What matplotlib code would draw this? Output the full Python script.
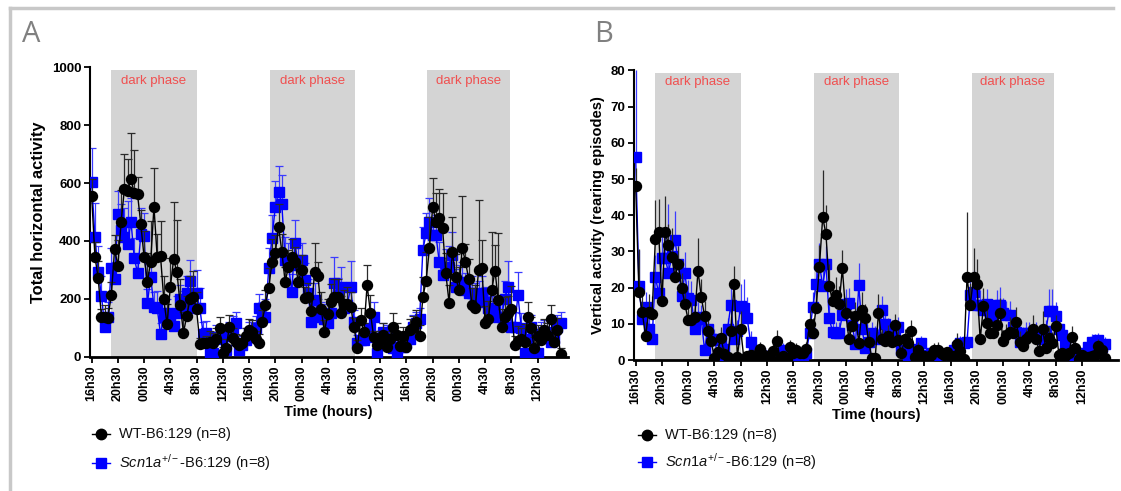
import numpy as np
import matplotlib
matplotlib.use('Agg')
import matplotlib.pyplot as plt
from matplotlib.lines import Line2D

plt.rcParams['font.family'] = ['Liberation Sans', 'DejaVu Sans']
plt.rcParams['mathtext.fontset'] = 'custom'
plt.rcParams['mathtext.it'] = 'Liberation Sans:italic'
plt.rcParams['mathtext.rm'] = 'Liberation Sans'

# ---------------- data ----------------
time_h = np.arange(144) * 0.5          # hours after 16h30, 30-min bins
tick_hours = np.arange(0, 69, 4)
tick_labels = ['16h30', '20h30', '00h30', '4h30', '8h30', '12h30'] * 3
dark_phases = [(2.95, 16.0), (27.2, 40.1), (51.2, 63.8)]

horiz_wt = [555, 346, 271, 136, 138, 135, 213, 371, 315, 467, 580, 573, 613, 565, 561, 457,
            343, 259, 328, 518, 343, 348, 198, 112, 242, 336, 293, 179, 83, 141, 198, 205,
            164, 45, 46, 46, 50, 46, 60, 98, 14, 30, 104, 63, 50, 40, 46, 70,
            92, 86, 60, 48, 121, 180, 236, 328, 359, 449, 363, 259, 309, 346, 328, 259,
            300, 202, 205, 159, 294, 279, 164, 86, 148, 190, 207, 207, 150, 182, 182, 173,
            104, 29, 127, 86, 248, 152, 69, 40, 60, 75, 35, 60, 101, 75, 37, 71,
            35, 92, 100, 121, 71, 205, 263, 374, 518, 467, 481, 446, 288, 187, 363, 276,
            230, 377, 328, 267, 179, 167, 300, 305, 115, 132, 230, 297, 196, 104, 138, 150,
            164, 40, 55, 60, 52, 138, 98, 29, 71, 58, 92, 75, 129, 52, 94, 9]
horiz_wt_sem = [60, 50, 60, 30, 40, 35, 45, 50, 90, 110, 120, 110, 160, 150, 60, 50,
                90, 100, 140, 135, 80, 120, 80, 70, 100, 200, 180, 90, 70, 70, 80, 90,
                60, 20, 20, 25, 40, 35, 40, 40, 20, 30, 40, 35, 30, 25, 30, 30,
                40, 40, 30, 30, 40, 50, 70, 80, 60, 80, 60, 50, 60, 60, 50, 60,
                50, 40, 50, 40, 100, 50, 60, 40, 50, 60, 60, 60, 60, 50, 60, 50,
                30, 30, 40, 30, 70, 60, 20, 30, 30, 40, 30, 30, 50, 40, 30, 30,
                40, 40, 40, 40, 40, 70, 100, 110, 100, 100, 100, 120, 70, 60, 120, 80,
                80, 180, 60, 70, 60, 80, 240, 100, 60, 60, 200, 90, 230, 60, 70, 60,
                80, 30, 50, 40, 60, 50, 40, 40, 40, 30, 40, 40, 50, 40, 40, 20]
horiz_scn = [605, 415, 294, 210, 104, 138, 305, 268, 493, 438, 415, 388, 467, 340, 290, 424,
             417, 184, 276, 173, 167, 78, 138, 150, 115, 106, 150, 198, 167, 219, 263, 167,
             219, 167, 80, 83, 12, 12, 69, 60, 70, 23, 80, 100, 115, 23, 40, 58,
             80, 80, 100, 167, 138, 138, 305, 409, 518, 570, 528, 334, 323, 225, 392, 317,
             334, 265, 219, 121, 196, 150, 138, 132, 115, 150, 253, 213, 240, 167, 180, 242,
             120, 46, 58, 58, 69, 100, 138, 12, 60, 86, 80, 58, 30, 6, 35, 35,
             46, 60, 104, 115, 129, 369, 426, 467, 420, 420, 328, 282, 311, 311, 351, 242,
             256, 259, 230, 219, 219, 196, 200, 219, 190, 167, 161, 161, 138, 138, 200, 242,
             104, 104, 213, 100, 12, 60, 104, 12, 12, 80, 86, 86, 52, 60, 104, 115]
horiz_scn_sem = [115, 115, 90, 70, 40, 50, 70, 60, 80, 90, 100, 150, 80, 70, 60, 90,
                 80, 50, 70, 50, 60, 40, 60, 50, 50, 40, 60, 50, 60, 60, 70, 60,
                 80, 70, 40, 40, 20, 30, 40, 30, 40, 30, 40, 40, 40, 30, 30, 40,
                 40, 40, 40, 50, 50, 60, 70, 80, 90, 90, 100, 80, 70, 60, 80, 70,
                 60, 60, 50, 40, 60, 50, 50, 50, 40, 50, 90, 60, 70, 60, 70, 90,
                 40, 30, 30, 30, 40, 40, 50, 20, 30, 30, 30, 30, 30, 20, 20, 30,
                 30, 30, 40, 40, 40, 80, 70, 80, 60, 70, 70, 60, 60, 70, 80, 60,
                 60, 70, 60, 60, 60, 60, 60, 60, 50, 50, 50, 50, 50, 50, 60, 90,
                 50, 50, 80, 50, 30, 40, 40, 30, 30, 40, 40, 40, 40, 40, 40, 40]

vert_wt = [48, 18.7, 13.3, 6.6, 13.3, 12.7, 33.3, 35.4, 16.4, 35.4, 31.7, 28.5, 23.0, 26.5, 20, 15.5,
           11.0, 11.0, 12, 24.7, 17.3, 12.2, 8.0, 5.3, 0.5, 2.3, 6.2, 1.7, 0.9, 8.1, 21, 0.9,
           8.5, 0.2, 1.0, 1.5, 1.0, 0.3, 3.0, 1.5, 0.5, 0.2, 2.5, 5.3, 0.5, 1.0, 0.2, 3.5,
           2.0, 2.8, 1.8, 1.8, 3.0, 9.9, 7.5, 14.3, 25.8, 39.4, 34.8, 20.4, 16.3, 17.9, 15.5, 25.3,
           13.1, 5.7, 9.4, 12.1, 4.8, 13.8, 11.5, 5.1, 0.5, 0.5, 13.1, 5.7, 5.3, 6.6, 5.1, 9.8,
           5.5, 2.0, 5.7, 4.6, 8.0, 0.9, 2.9, 0.5, 1.0, 0.2, 1.4, 2.8, 2.9, 2.0, 1.4, 2.3,
           0.5, 1.1, 4.4, 2.6, 0.2, 23.0, 15.2, 23.0, 21.0, 5.7, 14.9, 10.1, 7.5, 7.5, 9.7, 13.1,
           5.3, 7.0, 7.8, 7.4, 10.6, 5.1, 3.9, 5.7, 6.5, 8.5, 5.7, 2.6, 8.5, 3.2, 6.0, 4.6,
           9.4, 1.4, 2.0, 1.1, 1.8, 6.4, 3.2, 0.2, 1.5, 0.9, 0.7, 1.0, 1.4, 3.9, 2.8, 0.5]
vert_wt_sem = [5, 12, 5, 4, 5, 5, 11, 9, 6, 10, 6, 8, 6, 5, 4, 5,
               4, 5, 4, 9, 5, 4, 3, 3, 1, 2, 3, 2, 1, 4, 5, 1,
               5, 1, 1, 1, 2, 1, 2, 1, 1, 1, 2, 3, 1, 1, 1, 2,
               2, 2, 1, 1, 2, 4, 4, 5, 6, 13, 8, 6, 5, 5, 5, 5,
               4, 3, 4, 4, 3, 5, 4, 3, 1, 1, 5, 3, 3, 3, 3, 3,
               3, 2, 3, 2, 3, 1, 2, 1, 1, 1, 1, 2, 2, 1, 1, 1,
               1, 1, 3, 2, 1, 18, 6, 8, 7, 3, 5, 4, 4, 3, 4, 4,
               3, 3, 4, 3, 4, 3, 2, 3, 3, 4, 3, 2, 5, 2, 3, 3,
               3, 1, 1, 1, 1, 3, 2, 1, 1, 1, 1, 1, 1, 2, 2, 1]
vert_scn = [56, 20.5, 11.2, 14.7, 8.7, 5.7, 23, 18.4, 28.1, 28.1, 24.1, 28.7, 33.1, 26.5, 17.7, 23.9,
            17, 16.7, 8.5, 12, 11.2, 2.8, 8.5, 5.7, 5.7, 1.4, 5.5, 3.0, 8.5, 15.2, 5.7, 8.0,
            15.0, 14.5, 11.5, 5.0, 2.3, 1.5, 1.8, 1.0, 0.5, 1.2, 0.5, 0.9, 1.5, 2.8, 1.0, 1.8,
            1.8, 1.0, 1.1, 1.4, 2.0, 7.5, 14.7, 21, 26.4, 20.5, 26.5, 11.5, 7.8, 7.4, 7.5, 12.4,
            15.6, 15.8, 9.7, 4.4, 20.7, 8.5, 3.2, 5.0, 7.4, 6.4, 5.7, 13.8, 10.0, 8.5, 8.0, 7.5,
            9.0, 2.8, 2.0, 1.4, 2.5, 1.8, 3.0, 4.6, 0.9, 1.5, 1.8, 1.0, 0.5, 0.0, 0.5, 0.2,
            1.5, 2.9, 3.5, 4.6, 4.6, 5.1, 17.9, 18.9, 15.2, 15.2, 13.8, 15.6, 12.0, 12.4, 15.2, 15.2,
            13.0, 12.4, 12.4, 9.0, 7.8, 5.1, 6.0, 7.5, 7.5, 7.0, 7.5, 6.0, 5.7, 8.0, 13.6, 13.6,
            12.1, 8.5, 6.9, 4.1, 0.9, 0.5, 0.5, 0.5, 0.7, 2.0, 3.7, 5.1, 5.1, 5.5, 3.7, 4.4]
vert_scn_sem = [24, 10, 4, 4, 4, 3, 6, 5, 7, 6, 19, 6, 8, 6, 5, 6,
                5, 5, 3, 4, 4, 2, 3, 3, 3, 1, 3, 2, 3, 5, 3, 3,
                6, 8, 6, 3, 2, 1, 1, 1, 1, 1, 1, 1, 1, 2, 1, 1,
                1, 1, 1, 1, 2, 3, 4, 5, 6, 5, 5, 4, 3, 3, 3, 4,
                4, 4, 3, 2, 6, 3, 2, 2, 3, 3, 3, 4, 3, 3, 3, 3,
                3, 2, 2, 1, 2, 1, 2, 2, 1, 1, 1, 1, 1, 1, 1, 1,
                1, 2, 2, 2, 2, 2, 5, 6, 4, 4, 4, 4, 4, 4, 4, 5,
                4, 4, 4, 3, 3, 3, 3, 3, 3, 3, 3, 3, 3, 3, 6, 6,
                4, 3, 3, 2, 1, 1, 1, 1, 1, 1, 2, 2, 2, 2, 2, 2]

# ---------------- figure ----------------
W, H = 1121, 491
fig = plt.figure(figsize=(W / 100, H / 100), dpi=100)

# light grey frame (top and left edges visible)
FRAME = '#c8c8c8'
fig.add_artist(Line2D([10 / W, 1113 / W], [1 - 8 / H, 1 - 8 / H], transform=fig.transFigure,
                      color=FRAME, lw=2.5))
fig.add_artist(Line2D([10 / W, 10 / W], [0, 1 - 8 / H], transform=fig.transFigure,
                      color=FRAME, lw=2.5))

RED = '#f05050'
SHADE = '#d4d4d4'
BLUE = '#0000ff'


def panel(ax, ymax, yticks, ylabel, ylab_size, wt, wt_err, sc, sc_err, caps, text_y, shade_top):
    for (a, b) in dark_phases:
        ax.axvspan(a, b, ymin=0, ymax=shade_top / ymax, color=SHADE, lw=0, zorder=0)
        ax.text((a + b) / 2, text_y, 'dark phase', color=RED, fontsize=9.5,
                ha='center', va='center', zorder=1)
    t = time_h
    wt = np.array(wt); sc = np.array(sc)
    wt_err = np.array(wt_err); sc_err = np.array(sc_err)
    # Scn1a series (under)
    ax.vlines(t, sc, sc + sc_err, color='#3b3bff', lw=0.9, zorder=2)
    if caps:
        ax.plot(t, sc + sc_err, ls='none', marker='_', ms=6, mew=0.9, color='#3b3bff', zorder=2)
    ax.plot(t, sc, '-', color=BLUE, lw=1.0, zorder=3)
    ax.plot(t, sc, ls='none', marker='s', ms=6.8, color=BLUE, zorder=3)
    # WT series (over)
    ax.vlines(t, wt, wt + wt_err, color='#2a2a2a', lw=0.9, zorder=4)
    if caps:
        ax.plot(t, wt + wt_err, ls='none', marker='_', ms=6, mew=0.9, color='#2a2a2a', zorder=4)
    ax.plot(t, wt, '-', color='black', lw=1.0, zorder=5)
    ax.plot(t, wt, ls='none', marker='o', ms=7.2, color='black', zorder=5)

    ax.set_ylim(0, ymax)
    ax.set_yticks(yticks)
    ax.set_xticks(tick_hours)
    ax.set_xticklabels(tick_labels, rotation=90, fontsize=9, fontweight='bold')
    for lab in ax.get_yticklabels():
        lab.set_fontweight('bold'); lab.set_fontsize(9.5)
    ax.spines['top'].set_visible(False)
    ax.spines['right'].set_visible(False)
    ax.spines['left'].set_linewidth(1.5)
    ax.spines['bottom'].set_linewidth(2.0)
    ax.tick_params(axis='both', width=1.3, length=4, pad=2)
    ax.set_xlabel('Time (hours)', fontsize=10.5, fontweight='bold', labelpad=3)
    ax.set_ylabel(ylabel, fontsize=ylab_size, fontweight='bold', labelpad=4)
    ax.set_facecolor('none')


axA = fig.add_axes([0.0800, 0.2735, 0.4265, 0.5894])
axA.set_xlim(-0.3, 72.6)
panel(axA, 1000, np.arange(0, 1001, 200), 'Total horizontal activity', 11.8,
      horiz_wt, horiz_wt_sem, horiz_scn, horiz_scn_sem, True, 954, 990)

axB = fig.add_axes([0.5653, 0.2668, 0.4320, 0.5898])
axB.set_xlim(-0.3, 73.5)
panel(axB, 80, np.arange(0, 81, 10), 'Vertical activity (rearing episodes)', 10.5,
      vert_wt, vert_wt_sem, vert_scn, vert_scn_sem, False, 76.8, 79.2)

# panel letters
fig.text(22 / W, 1 - 35 / H, 'A', fontsize=21, color='#808080', va='center', ha='left',
         family=['Open Sans', 'DejaVu Sans'])
fig.text(594 / W, 1 - 35 / H, 'B', fontsize=21, color='#808080', va='center', ha='left',
         family=['Open Sans', 'DejaVu Sans'])

# legends (drawn manually)
def legend(x_marker, x_text, y1, y2):
    for y, mk, col, lab in [(y1, 'o', 'black', 'WT-B6:129 (n=8)'),
                            (y2, 's', BLUE, r'$\it{Scn1a}^{+/-}$-B6:129 (n=8)')]:
        fy = 1 - y / H
        fig.add_artist(Line2D([(x_marker - 9) / W, (x_marker + 9) / W], [fy, fy],
                              transform=fig.transFigure, color=col, lw=1.0))
        fig.add_artist(Line2D([x_marker / W], [fy], transform=fig.transFigure, ls='none',
                              marker=mk, ms=7.5 if mk == 'o' else 7, color=col))
        fig.text(x_text / W, fy, lab, fontsize=10.5, va='center', ha='left', color='#111111')

legend(101, 119, 434, 463)
legend(647, 665, 435, 462)

fig.savefig('out.png', dpi=100)
